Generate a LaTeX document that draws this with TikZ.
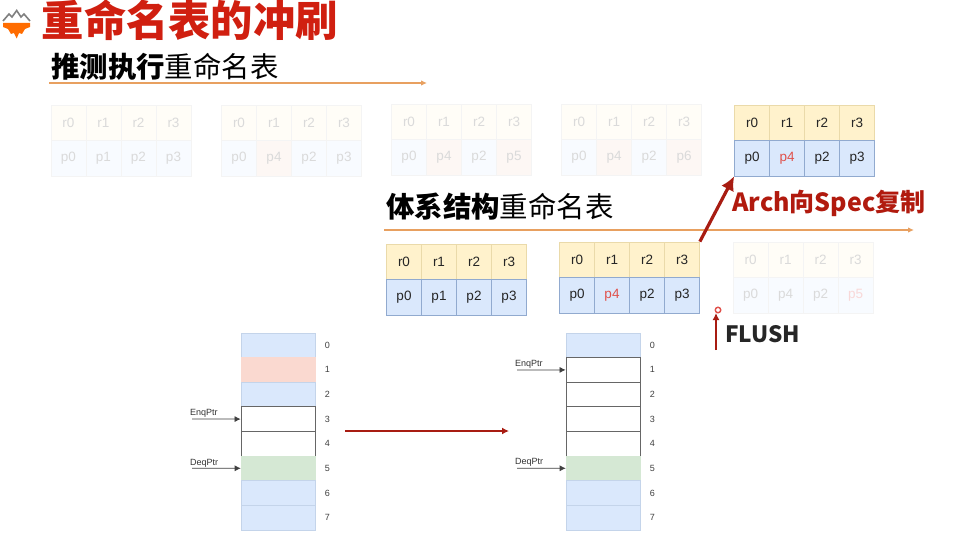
\documentclass[tikz,border=0pt]{standalone}
\usepackage{fontspec}
\setmainfont{Liberation Sans}
\newfontfamily\cjk{Noto Sans CJK SC}
\usetikzlibrary{
  arrows.meta,
  calc,
  positioning
}
\definecolor{regyellow}{HTML}{FFF2CC}
\definecolor{regyellowline}{HTML}{D6B656}
\definecolor{physblue}{HTML}{DAE8FC}
\definecolor{physblueline}{HTML}{6C8EBF}
\definecolor{ghostyellow}{HTML}{FFFDF7}
\definecolor{ghostblue}{HTML}{F8FBFF}
\definecolor{ghostpink}{HTML}{FDF7F4}
\definecolor{ghostline}{HTML}{F4F4F4}
\definecolor{ghosttext}{HTML}{DADADA}
\definecolor{titlered}{HTML}{D01F10}
\definecolor{darkred}{HTML}{A81C12}
\definecolor{newred}{HTML}{E0504A}
\definecolor{flushpink}{HTML}{F8D8D8}
\definecolor{rulerorange}{HTML}{E8A060}
\definecolor{slotred}{HTML}{FAD9D0}
\definecolor{slotgreen}{HTML}{D5E8D4}
\definecolor{slotline}{HTML}{C4D4EA}
\tikzset{
  cell/.style={
    draw,
    line width=0.7pt,
    inner sep=0pt,
    minimum width=35pt,
    minimum height=35.5pt,
    text=black!85,
    font=\fontsize{13.5}{14}\selectfont
  },
  regcell/.style={cell, fill=regyellow, draw=regyellowline!50},
  physcell/.style={cell, fill=physblue, draw=physblueline!75},
  newcell/.style={physcell, text=newred},
  ghostreg/.style={cell, fill=ghostyellow, draw=ghostline, text=ghosttext},
  ghostphys/.style={cell, fill=ghostblue, draw=ghostline, text=ghosttext},
  ghostnew/.style={cell, fill=ghostpink, draw=ghostline, text=ghosttext},
  ghostflush/.style={ghostphys, text=flushpink},
  slot/.style={
    draw=slotline,
    line width=0.6pt,
    inner sep=0pt,
    minimum width=74pt,
    minimum height=24.6pt,
    fill=physblue
  },
  freeslot/.style={slot, fill=white, draw=black!60, line width=0.8pt},
  redslot/.style={slot, fill=slotred, draw=slotred},
  headslot/.style={slot, fill=slotgreen, draw=slotgreen},
  slotnum/.style={font=\fontsize{9}{10}\selectfont, text=black!75},
  ptrlabel/.style={font=\fontsize{9}{10}\selectfont, text=black!80, inner sep=0pt},
  ptrarrow/.style={-{Latex[length=6pt,width=6pt]}, line width=0.7pt, draw=black!75},
  ruler/.style={-{Latex[length=6pt,width=5.5pt]}, line width=1.2pt, draw=rulerorange},
  heading/.style={font=\cjk\fontsize{28.4}{30}\selectfont, inner sep=0pt, anchor=west}
}
% one rename table: name, left, top, style of top row, phys list
\newcommand{\regtable}[5]{
  \foreach \i/\phys/\st in {#5} {
    \node[#4] (#1r\i) at ({#2+17.5+35*\i},{#3+17.7}) {r\i};
    \node[\st] (#1p\i) at ({#2+17.5+35*\i},{#3+53.2}) {\phys};
  }
}
% one queue: name, left
\newcommand{\slotqueue}[3]{
  \foreach \i/\st in {#3} {
    \node[\st] (#1s\i) at (#2+37,{345.3+24.6*\i}) {};
    \node[slotnum, right=6pt of #1s\i] (#1n\i) {\i};
  }
}
\begin{document}
\begin{tikzpicture}[x=1pt,y=-1pt]
  \useasboundingbox[fill=white] (0,0) rectangle (958,553);

  % logo
  \fill[orange!85!red] (3,23) -- (30,23) -- (30,27) -- (25,29) -- (22,34) -- (19,33) -- (16.7,38.5)
    -- (14,33) -- (11,34) -- (8,29) -- (3,27) -- cycle;
  \draw[black!50, line width=1.6pt] (3,21) -- (9,14) -- (12,17) -- (16.7,10.5) -- (21,17) -- (24,14) -- (30,21);

  \node[font=\cjk\bfseries\fontsize{42.3}{44}\selectfont, text=titlered, inner sep=0pt, anchor=west]
    (title) at (41.5,20.5) {重命名表的冲刷};
  \node[heading] (spechead) at (51,67) {{\bfseries 推测执行}重命名表};
  \node[heading] (archhead) at (386,207) {{\bfseries 体系结构}重命名表};

  \coordinate (specstart) at (49,83);
  \coordinate (specend) at (427,83);
  \coordinate (archstart) at (384,230);
  \coordinate (archend) at (914,230);
  \draw[ruler] (specstart) -- (specend);
  \draw[ruler] (archstart) -- (archend);

  % speculative tables
  \regtable{sa}{51}{105}{ghostreg}{0/p0/ghostphys,1/p1/ghostphys,2/p2/ghostphys,3/p3/ghostphys}
  \regtable{sb}{221.5}{105}{ghostreg}{0/p0/ghostphys,1/p4/ghostnew,2/p2/ghostphys,3/p3/ghostphys}
  \regtable{sc}{391.5}{104}{ghostreg}{0/p0/ghostphys,1/p4/ghostnew,2/p2/ghostphys,3/p5/ghostnew}
  \regtable{sd}{561.5}{104}{ghostreg}{0/p0/ghostphys,1/p4/ghostnew,2/p2/ghostphys,3/p6/ghostnew}
  \regtable{se}{734.5}{105}{regcell}{0/p0/physcell,1/p4/newcell,2/p2/physcell,3/p3/physcell}

  % architectural tables
  \regtable{aa}{386.5}{244}{regcell}{0/p0/physcell,1/p1/physcell,2/p2/physcell,3/p3/physcell}
  \regtable{ab}{559.5}{242}{regcell}{0/p0/physcell,1/p4/newcell,2/p2/physcell,3/p3/physcell}
  \regtable{ac}{733}{242}{ghostreg}{0/p0/ghostphys,1/p4/ghostphys,2/p2/ghostphys,3/p5/ghostflush}

  \draw[-{Latex[length=14pt,width=14pt]}, line width=3.2pt, draw=darkred]
    (abr3.north east) -- (sep0.south west);
  \node[font=\cjk\bfseries\fontsize{25}{27}\selectfont, text=titlered!85!black, inner sep=0pt, anchor=west]
    (copylabel) at (732,203) {Arch向Spec复制};

  \coordinate (flushstart) at (716,350);
  \coordinate (flushend) at (716,313);
  \draw[-{Latex[length=7pt,width=7pt]}, line width=1.4pt, draw=darkred] (flushstart) -- (flushend);
  \node[font=\cjk\bfseries\fontsize{22.5}{24}\selectfont, text=black!85, inner sep=0pt, anchor=west]
    (flushlabel) at (725,334) {FLUSH};
  \node[circle, draw=newred, fill=white, line width=1.4pt, inner sep=0pt, minimum size=5.5pt] (cursor) at (718,310) {};

  % queues
  \slotqueue{qa}{241}{0/slot,1/redslot,2/slot,3/freeslot,4/freeslot,5/headslot,6/slot,7/slot}
  \slotqueue{qb}{566}{0/slot,1/freeslot,2/freeslot,3/freeslot,4/freeslot,5/headslot,6/slot,7/slot}

  \node[ptrlabel, anchor=west] (qaenq) at (190,413) {EnqPtr};
  \node[ptrlabel, anchor=west] (qadeq) at (190,463) {DeqPtr};
  \node[ptrlabel, anchor=west] (qbenq) at (515,364) {EnqPtr};
  \node[ptrlabel, anchor=west] (qbdeq) at (515,462) {DeqPtr};
  \coordinate (qaenqtail) at (192,419);
  \coordinate (qadeqtail) at (192,468.3);
  \coordinate (qbenqtail) at (517,370);
  \coordinate (qbdeqtail) at (517,468.3);
  \draw[ptrarrow] (qaenqtail) -- (qas3.west);
  \draw[ptrarrow] (qadeqtail) -- (qas5.west);
  \draw[ptrarrow] (qbenqtail) -- (qbs1.west);
  \draw[ptrarrow] (qbdeqtail) -- (qbs5.west);

  \coordinate (shiftstart) at (345,431);
  \coordinate (shiftend) at (509,431);
  \draw[-{Latex[length=7pt,width=7pt]}, line width=1.8pt, draw=darkred] (shiftstart) -- (shiftend);
\end{tikzpicture}
\end{document}
